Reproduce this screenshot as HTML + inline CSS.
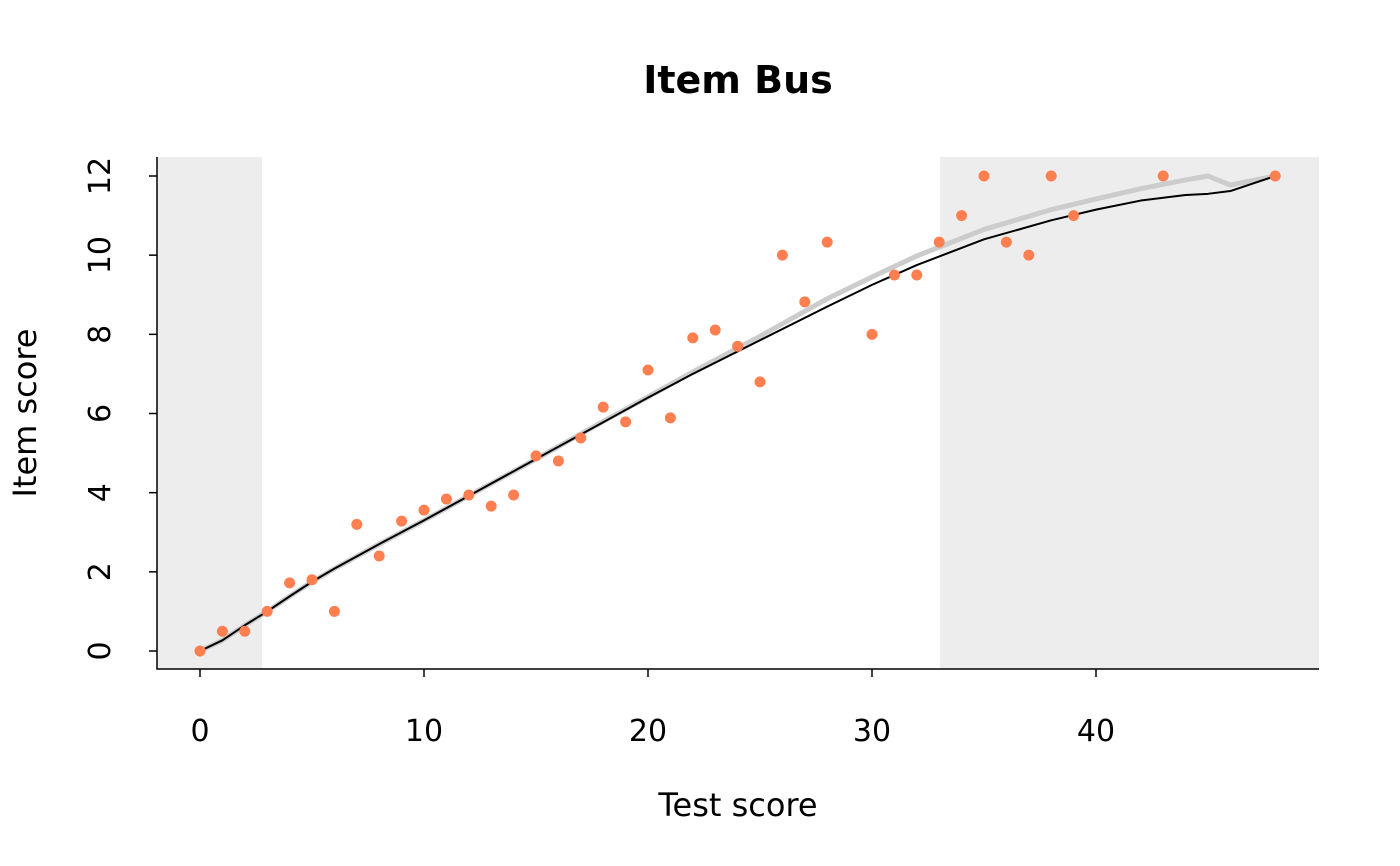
<!DOCTYPE html>
<html><head><meta charset="utf-8"><style>
body{margin:0;background:#fff}
svg{display:block;font-family:"DejaVu Sans","Liberation Sans",sans-serif}
</style></head><body>
<svg id="chart" width="1400" height="866">
<text x="738" y="93" text-anchor="middle" font-size="38" font-weight="bold">Item Bus</text>
<g id="shade"></g>
<g id="lines"></g>
<g id="pts"></g>
<g id="axes"></g>
<text x="738" y="816" text-anchor="middle" font-size="32">Test score</text>
<text transform="translate(36,413) rotate(-90)" text-anchor="middle" font-size="32">Item score</text>
</svg>
<script>
const pointX=[0,1,2,3,4,5,6,7,8,9,10,11,12,13,14,15,16,17,18,19,20,21,22,23,24,25,26,27,28,30,31,32,33,34,35,36,37,38,39,43,48];
const pointY=[0,0.5,0.5,1,1.72,1.8,1,3.2,2.4,3.28,3.56,3.84,3.94,3.66,3.94,4.93,4.8,5.38,6.16,5.79,7.1,5.89,7.91,8.11,7.7,6.8,10,8.82,10.33,8,9.5,9.5,10.33,11,12,10.33,10,12,11,12,12];
const blackX=[0,1,2,3,4,5,6,8,10,12,15,18,20,22,25,28,30,32,35,38,40,42,44,45,46,48];
const blackY=[0,0.27,0.65,1,1.38,1.75,2.08,2.7,3.3,3.92,4.85,5.78,6.4,7.0,7.85,8.7,9.25,9.75,10.4,10.88,11.15,11.38,11.52,11.55,11.62,12];
const grayX=[0,1,2,3,4,5,6,8,10,12,15,18,20,22,25,28,30,32,35,38,40,42,44,45,46,48];
const grayY=[0,0.27,0.65,1,1.38,1.75,2.08,2.7,3.3,3.92,4.85,5.8,6.42,7.05,7.95,8.9,9.45,9.98,10.65,11.15,11.42,11.68,11.9,12.0,11.77,12];
const shadeRanges=[[-2,2.77],[33.04,50]];
const xTicks=[0,10,20,30,40];
const yTicks=[0,2,4,6,8,10,12];
const NS="http://www.w3.org/2000/svg";
const L=157,R=1319,T=157,B=669;
const sx=v=>200+v*22.4, sy=v=>651-v*39.583;
function mk(tag,attrs,parent){const e=document.createElementNS(NS,tag);for(const k in attrs)e.setAttribute(k,attrs[k]);document.getElementById(parent).appendChild(e);return e;}
shadeRanges.forEach(r=>{
  const x0=Math.max(L,sx(r[0])),x1=Math.min(R,sx(r[1]));
  const e=mk('rect',{x:x0,y:T,width:x1-x0,height:B-T,fill:'#ededed'},'shade');
  
  
});
const g=mk('polyline',{points:grayX.map((x,i)=>sx(x)+','+sy(grayY[i])).join(' '),fill:'none',stroke:'#cccccc','stroke-width':5,'stroke-linejoin':'round'},'lines');


pointX.forEach((x,i)=>{
  const c=mk('circle',{cx:sx(x),cy:sy(pointY[i]),r:5.5,fill:'#ff7f50'},'pts');
  
  
});
const b=mk('polyline',{points:blackX.map((x,i)=>sx(x)+','+sy(blackY[i])).join(' '),fill:'none',stroke:'#000','stroke-width':2,'stroke-linejoin':'round'},'lines');


const ax=mk('path',{d:`M${L},${T}V${B}H${R}`,fill:'none',stroke:'#000','stroke-width':1.5},'axes');


xTicks.forEach(v=>{
  const t=mk('line',{x1:sx(v),x2:sx(v),y1:B,y2:B+8,stroke:'#000','stroke-width':1.5},'axes');
  
  
  const l=mk('text',{x:sx(v),y:741,'text-anchor':'middle','font-size':30},'axes');
  l.textContent=v;
  
  
});
yTicks.forEach(v=>{
  const t=mk('line',{x1:L-8,x2:L,y1:sy(v),y2:sy(v),stroke:'#000','stroke-width':1.5},'axes');
  
  
  const l=mk('text',{transform:`translate(110,${sy(v)}) rotate(-90)`,'text-anchor':'middle','font-size':30},'axes');
  l.textContent=v;
  
  
});
</script>
</body></html>
